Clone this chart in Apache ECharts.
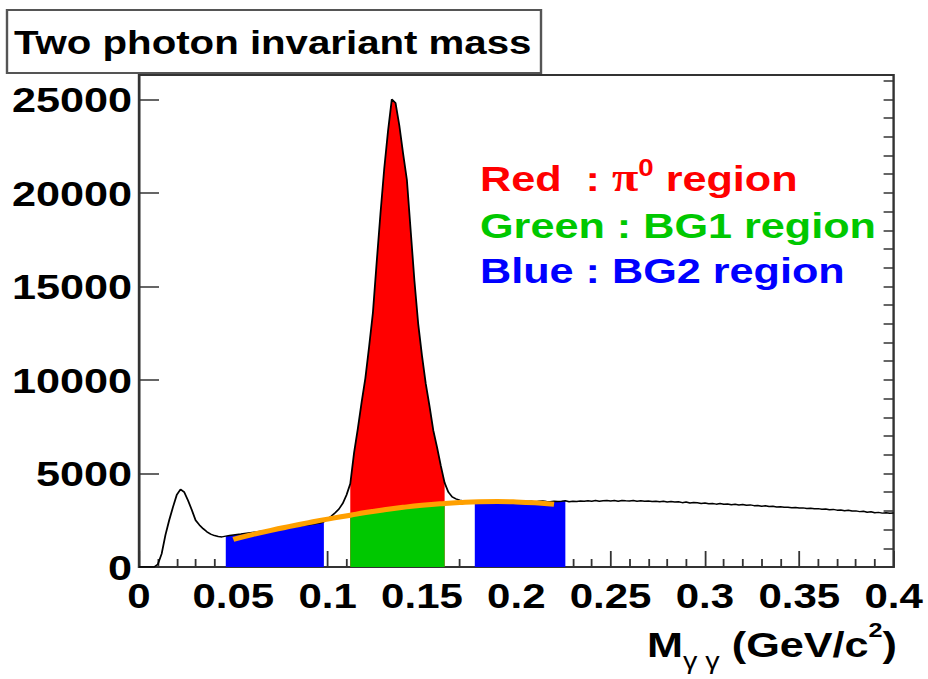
<!DOCTYPE html>
<html>
<head>
<meta charset="utf-8">
<script src="https://cdn.jsdelivr.net/npm/echarts@6/dist/echarts.min.js"></script>
<style>
html, body { margin: 0; padding: 0; background: #fff; overflow: hidden; }
#chart { height: 679px; transform-origin: 0 0; }
</style>
</head>
<body>
<div id="chart"></div>
<script>
// the reference picture is stretched sideways, so the chart is drawn narrower and scaled
var SX = 1.2;
var FONT = '"Liberation Sans", Arial, Helvetica, sans-serif';

// two photon mass histogram, bins of 0.002 GeV/c2 from 0 to 0.4
var binWidth = 0.002;
var counts = [
	0, 0, 0, 0, 0, 150, 700, 1700, 2500, 3200,
	3850, 4150, 4000, 3550, 3050, 2500, 2250, 2050, 1880, 1760,
	1680, 1630, 1610, 1650, 1680, 1710, 1740, 1760, 1790, 1820,
	1850, 1870, 1900, 1930, 1960, 1990, 2020, 2040, 2070, 2100,
	2130, 2150, 2180, 2210, 2240, 2260, 2290, 2320, 2350, 2420,
	2560, 2720, 2900, 3100, 3400, 3850, 4450, 6100, 7400, 8800,
	10100, 11800, 13600, 16300, 18900, 21300, 23300, 25000, 24800, 23600,
	22100, 20700, 18000, 15300, 13000, 11300, 9800, 8600, 7300, 6400,
	5400, 4500, 4000, 3750, 3640, 3570, 3530, 3510, 3500, 3500,
	3510, 3490, 3520, 3500, 3480, 3510, 3530, 3500, 3490, 3520,
	3510, 3490, 3530, 3500, 3520, 3480, 3510, 3530, 3500, 3490,
	3520, 3500, 3510, 3540, 3490, 3520, 3500, 3530, 3510, 3540,
	3520, 3550, 3510, 3540, 3560, 3530, 3550, 3520, 3560, 3540,
	3530, 3550, 3520, 3540, 3510, 3530, 3500, 3520, 3490, 3510,
	3480, 3500, 3470, 3490, 3440, 3470, 3420, 3450, 3430, 3400,
	3420, 3380, 3400, 3360, 3390, 3350, 3370, 3330, 3350, 3320,
	3340, 3300, 3320, 3280, 3290, 3250, 3270, 3230, 3250, 3210,
	3220, 3190, 3200, 3170, 3180, 3150, 3160, 3130, 3140, 3110,
	3120, 3090, 3100, 3060, 3080, 3040, 3050, 3010, 3030, 2990,
	3000, 2960, 2980, 2930, 2950, 2900, 2920, 2880, 2900, 2870, 2880
];

// background fit under the peak (orange curve)
var fitMass = [0.05, 0.06, 0.07, 0.08, 0.09, 0.10, 0.112, 0.12, 0.13, 0.14, 0.15, 0.162, 0.17, 0.18, 0.19, 0.20, 0.21, 0.22];
var fitCounts = [1480, 1730, 1960, 2170, 2370, 2560, 2770, 2910, 3060, 3190, 3300, 3400, 3450, 3490, 3500, 3480, 3430, 3350];

// mass windows
var pi0Range = [0.112, 0.162];
var bg1Range = [0.112, 0.162];
var bg2Ranges = [[0.046, 0.098], [0.178, 0.226]];

var xMin = 0, xMax = 0.4, xStep = 0.05;
var yMin = 0, yMax = 26300, yStep = 5000, yMinorStep = 1000;

var dom = document.getElementById('chart');
dom.style.width = (928 / SX) + 'px';
dom.style.transform = 'scaleX(' + SX + ')';

var hist = counts.map(function (c, i) { return [+(i * binWidth).toFixed(3), c]; });
var fit = fitMass.map(function (m, i) { return [m, fitCounts[i]]; });

function cut(points, r) {
	return points.filter(function (p) { return p[0] >= r[0] - 1e-9 && p[0] <= r[1] + 1e-9; });
}

function fill(name, data, color, smooth) {
	return {
		name: name,
		type: 'line',
		data: data,
		smooth: !!smooth,
		symbol: 'none',
		silent: true,
		lineStyle: { width: 0 },
		areaStyle: { color: color, opacity: 1 }
	};
}

var px = function (v) { return v / SX; };
var ink = '#333';

var myChart = echarts.init(dom, null, { renderer: 'svg' });

var option = {
	animation: false,
	backgroundColor: '#fff',
	grid: {
		left: px(139),
		right: px(34),
		top: 75,
		bottom: 112,
		show: true,
		borderColor: ink,
		borderWidth: 2,
		outerBoundsMode: 'none'
	},

	xAxis: {
		type: 'value',
		min: xMin,
		max: xMax,
		interval: xStep,
		axisLine: { show: true, onZero: false, lineStyle: { color: ink, width: 2 } },
		axisTick: { show: true, inside: true, length: 16, lineStyle: { color: ink, width: 1.5 } },
		minorTick: { show: true, splitNumber: 5, length: 8, lineStyle: { color: ink, width: 1.5 } },
		splitLine: { show: false },
		axisLabel: { color: '#000', fontFamily: FONT, fontWeight: 'bold', fontSize: 35, lineHeight: 30, margin: 14 }
	},

	yAxis: [
		{
			type: 'value',
			min: yMin,
			max: yMax,
			interval: yStep,
			axisLine: { show: true, lineStyle: { color: ink, width: 2 } },
			axisTick: { show: true, inside: true, length: px(20), lineStyle: { color: ink, width: 1.5 } },
			splitLine: { show: false },
			axisLabel: {
				color: '#000', fontFamily: FONT, fontWeight: 'bold', fontSize: 36, margin: px(7), showMaxLabel: false,
				formatter: function (v) { return String(v); }
			}
		},
		{
			type: 'value',
			min: yMin,
			max: yMax,
			interval: yMinorStep,
			axisLine: { show: false },
			axisTick: { show: true, inside: true, length: px(10), lineStyle: { color: ink, width: 1.5 } },
			splitLine: { show: false },
			axisLabel: { show: false }
		}
	],

	series: [
		fill('Red : pi0 region', cut(hist, pi0Range), '#ff0000'),
		fill('Green : BG1 region', cut(fit, bg1Range), '#00c800', true),
		fill('Blue : BG2 region', cut(hist, bg2Ranges[0]), '#0000ff'),
		fill('Blue : BG2 region', cut(hist, bg2Ranges[1]), '#0000ff'),
		{
			name: 'Mgg',
			type: 'line',
			data: hist,
			symbol: 'none',
			silent: true,
			lineStyle: { color: '#000', width: 1.5 }
		},
		{
			name: 'fit',
			type: 'line',
			data: fit,
			smooth: true,
			symbol: 'none',
			silent: true,
			lineStyle: { color: '#ffa000', width: 5 }
		}
	],

	graphic: [
		{
			type: 'rect',
			z: 100,
			shape: { x: px(7), y: 10, width: px(534), height: 63 },
			style: { fill: '#fff', stroke: '#555', lineWidth: 2 }
		},
		{
			type: 'text',
			z: 101,
			x: px(14),
			y: 43,
			style: {
				text: 'Two photon invariant mass',
				fill: '#000',
				font: 'bold 33.5px ' + FONT,
				align: 'left', verticalAlign: 'middle',
				textAlign: 'left', textVerticalAlign: 'middle'
			}
		},
		{
			type: 'text',
			z: 101,
			x: px(480),
			y: 178,
			style: {
				text: '{a|Red  : }{p|π}{s|0}{a| region}',
				align: 'left', verticalAlign: 'middle',
				textAlign: 'left', textVerticalAlign: 'middle',
				rich: {
					a: { fill: '#ff0000', fontFamily: FONT, fontWeight: 'bold', fontSize: 36, lineHeight: 44 },
					p: { fill: '#ff0000', fontFamily: '"Liberation Serif", serif', fontWeight: 'bold', fontSize: 40, lineHeight: 44 },
					s: { fill: '#ff0000', fontFamily: FONT, fontWeight: 'bold', fontSize: 23, lineHeight: 23, verticalAlign: 'top' }
				}
			}
		},
		{
			type: 'text',
			z: 101,
			x: px(480),
			y: 225,
			style: {
				text: 'Green : BG1 region',
				fill: '#00c800',
				font: 'bold 36px ' + FONT,
				align: 'left', verticalAlign: 'middle',
				textAlign: 'left', textVerticalAlign: 'middle'
			}
		},
		{
			type: 'text',
			z: 101,
			x: px(480),
			y: 270,
			style: {
				text: 'Blue : BG2 region',
				fill: '#0000ff',
				font: 'bold 36px ' + FONT,
				align: 'left', verticalAlign: 'middle',
				textAlign: 'left', textVerticalAlign: 'middle'
			}
		},
		{
			type: 'text',
			z: 101,
			x: px(897),
			y: 644,
			style: {
				text: '{m|M}{g|γ γ}{m| (GeV/c}{s|2}{m|)}',
				align: 'right', verticalAlign: 'middle',
				textAlign: 'right', textVerticalAlign: 'middle',
				rich: {
					m: { fill: '#000', fontFamily: FONT, fontWeight: 'bold', fontSize: 36, lineHeight: 50 },
					g: { fill: '#000', fontFamily: FONT, fontSize: 24, lineHeight: 20, padding: [30, 0, 0, 0], verticalAlign: 'top' },
					s: { fill: '#000', fontFamily: FONT, fontWeight: 'bold', fontSize: 21, lineHeight: 21, verticalAlign: 'top' }
				}
			}
		}
	]
};

myChart.setOption(option);
</script>
</body>
</html>
